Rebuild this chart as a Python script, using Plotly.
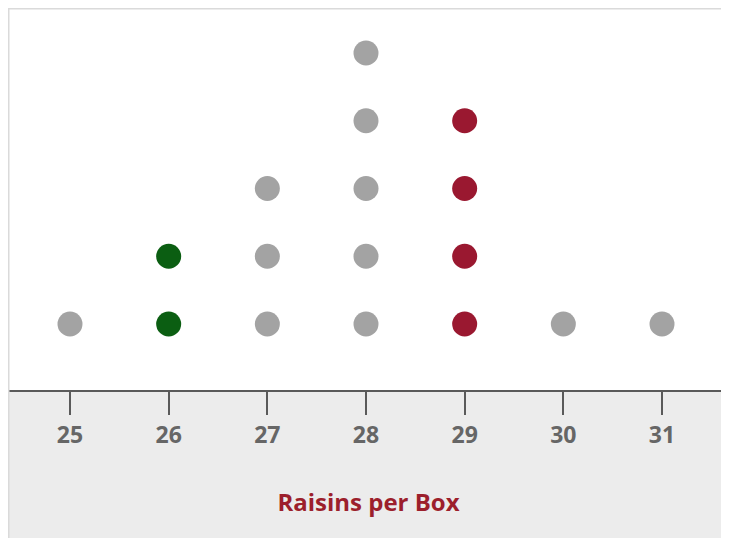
import plotly.graph_objects as go

raisins = [25, 26, 27, 28, 29, 30, 31]
counts = [1, 2, 3, 5, 4, 1, 1]
group_colors = ["#a3a3a3", "#0b5e12", "#a3a3a3", "#a3a3a3", "#9a1830", "#a3a3a3", "#a3a3a3"]
tick_labels = ["25", "26", "27", "28", "29", "30", "31"]

xs, ys, cs = [], [], []
for v, n, c in zip(raisins, counts, group_colors):
    for k in range(1, n + 1):
        xs.append(v)
        ys.append(k)
        cs.append(c)

W, H = 721, 530
PLOT_H = 382
fig = go.Figure(go.Scatter(
    x=xs, y=ys, mode="markers",
    marker=dict(size=25, color=cs, line=dict(width=0)),
    hoverinfo="skip",
))

fig.update_layout(
    width=W, height=H,
    margin=dict(l=0, r=0, t=0, b=H - PLOT_H),
    paper_bgcolor="white",
    plot_bgcolor="white",
    showlegend=False,
    shapes=[
        dict(type="rect", xref="paper", yref="paper", x0=0, x1=1, y0=-(H - PLOT_H) / PLOT_H, y1=0,
             fillcolor="#ececec", line=dict(width=0), layer="below"),
        dict(type="line", xref="paper", yref="paper", x0=0, x1=1, y0=1, y1=1,
             line=dict(color="#dadada", width=3)),
        dict(type="line", xref="paper", yref="paper", x0=0, x1=0, y0=-(H - PLOT_H) / PLOT_H, y1=1,
             line=dict(color="#dadada", width=3)),
    ],
)

fig.update_xaxes(
    range=[24.3716, 31.679],
    tickvals=raisins, ticktext=tick_labels,
    ticks="outside", ticklen=23, tickwidth=2, tickcolor="#5a5a5a",
    showline=True, linecolor="#5a5a5a", linewidth=2,
    showgrid=False, zeroline=False,
    tickfont=dict(family="Open Sans", size=23, color="#666666", weight="bold"),
    title=dict(text="Raisins per Box", standoff=46,
               font=dict(family="Open Sans", size=24, color="#9c1f2c", weight="bold")),
)
fig.update_yaxes(range=[0.026, 5.664], visible=False, showgrid=False, zeroline=False)

fig.write_html("out.html")
